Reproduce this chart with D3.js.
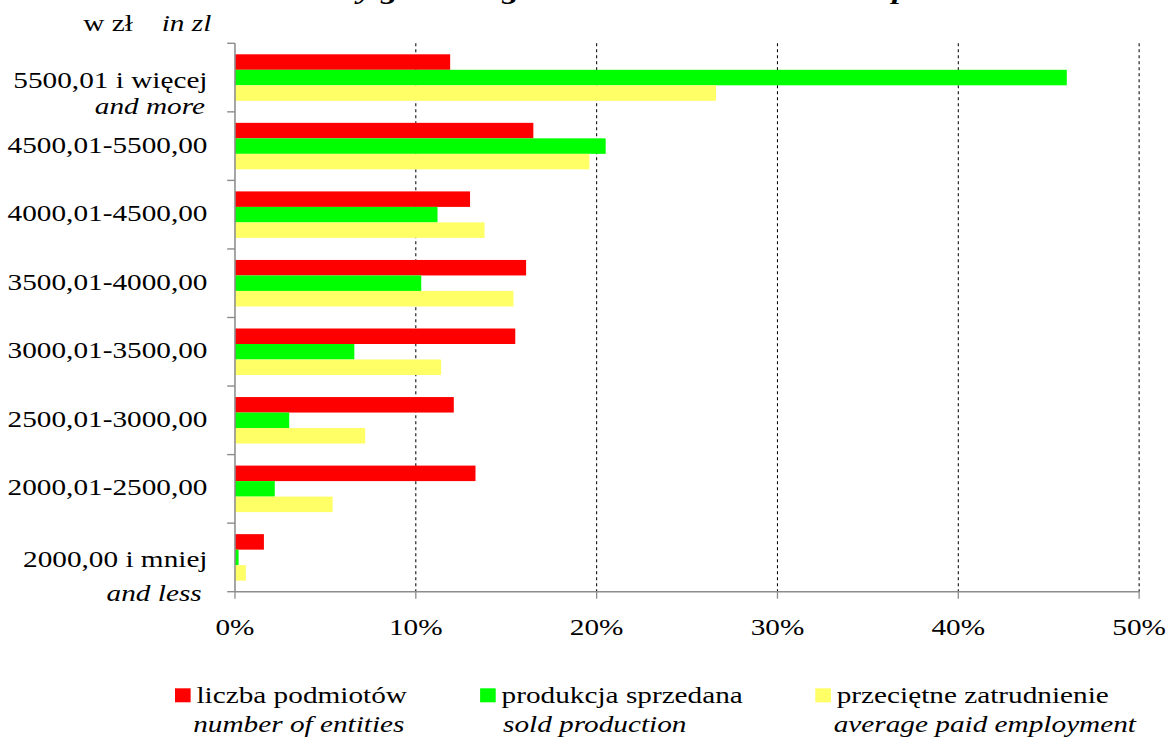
<!DOCTYPE html>
<html>
<head>
<meta charset="utf-8">
<script src="https://cdn.jsdelivr.net/npm/d3@7"></script>
<style>
  html, body { margin: 0; padding: 0; background: #fff; overflow: hidden; }
  svg { display: block; font-family: "Liberation Serif", "Times New Roman", serif; }
</style>
</head>
<body>
<div id="chart"></div>
<script>
// wage brackets (top to bottom) with english second line
const categories = ["5500,01 i więcej", "4500,01-5500,00", "4000,01-4500,00", "3500,01-4000,00",
                    "3000,01-3500,00", "2500,01-3000,00", "2000,01-2500,00", "2000,00 i mniej"];
const categoriesEn = ["and more", "", "", "", "", "", "", "and less"];

// shares in %
const entities   = [11.9, 16.5, 13.0, 16.1, 15.5, 12.1, 13.3, 1.6];
const production = [46.0, 20.5, 11.2, 10.3, 6.6, 3.0, 2.2, 0.2];
const employment = [26.6, 19.6, 13.8, 15.4, 11.4, 7.2, 5.4, 0.6];

const xTicks = [0, 10, 20, 30, 40, 50];

const seriesKeys = ["entities", "production", "employment"];
const seriesPl = ["liczba podmiotów", "produkcja sprzedana", "przeciętne zatrudnienie"];
const seriesEn = ["number of entities", "sold production", "average paid employment"];
const colors = ["#ff0000", "#00ff00", "#ffff66"];

const rows = categories.map((c, i) => ({
  cat: c, en: categoriesEn[i],
  entities: entities[i], production: production[i], employment: employment[i]
}));

// chart drawn in a 900-wide space, stretched to the window width
const W = 900, H = 744;
const svg = d3.select("#chart").append("svg")
  .attr("width", 1171)
  .attr("height", 744)
  .attr("viewBox", `0 0 ${W} ${H}`)
  .attr("preserveAspectRatio", "none");

const plot = { left: 180.6, right: 875.5, top: 43.3, bottom: 591.7 };
const fs = 22.5;

const x = d3.scaleLinear().domain([0, 50]).range([plot.left, plot.right]);
const y = d3.scaleBand().domain(categories).range([plot.top, plot.bottom]);
const ySub = d3.scaleBand().domain(seriesKeys).range([11, 57.5]);

// title, cut off by the top edge (only descenders show)
const title = svg.append("text")
  .attr("y", -1)
  .style("font-size", "26px")
  .style("font-weight", "bold")
  .style("font-style", "italic")
  .text("Entities by gross wages and salaries in the enterprises");
const pre = svg.append("text")
  .style("font-size", "26px").style("font-weight", "bold").style("font-style", "italic")
  .text("Entities b");
const preW = pre.node().getComputedTextLength();
pre.remove();
title.attr("x", 275 - preW);

// unit label
svg.append("text").attr("x", 64).attr("y", 30.7)
  .style("font-size", fs + "px").text("w zł");
svg.append("text").attr("x", 124.3).attr("y", 30.7)
  .style("font-size", fs + "px").style("font-style", "italic").text("in zl");

// vertical dashed gridlines
svg.append("g").selectAll("line")
  .data(xTicks.filter(d => d > 0))
  .enter().append("line")
  .attr("x1", d => x(d)).attr("x2", d => x(d))
  .attr("y1", plot.top).attr("y2", plot.bottom)
  .attr("stroke", "#000")
  .attr("stroke-width", 0.8)
  .attr("stroke-dasharray", "3,3");

// bars
const groups = svg.append("g").selectAll("g")
  .data(rows).enter().append("g")
  .attr("transform", d => `translate(0,${y(d.cat)})`);

groups.selectAll("rect")
  .data(d => seriesKeys.map((k, i) => ({ key: k, value: d[k], color: colors[i] })))
  .enter().append("rect")
  .attr("x", x(0))
  .attr("y", d => ySub(d.key))
  .attr("width", d => x(d.value) - x(0))
  .attr("height", ySub.bandwidth())
  .attr("fill", d => d.color);

// axes
const axisColor = "#8c8c8c";
svg.append("line")
  .attr("x1", plot.left).attr("x2", plot.left)
  .attr("y1", plot.top).attr("y2", plot.bottom)
  .attr("stroke", axisColor).attr("stroke-width", 1.2);
svg.append("line")
  .attr("x1", plot.left).attr("x2", plot.right)
  .attr("y1", plot.bottom).attr("y2", plot.bottom)
  .attr("stroke", axisColor).attr("stroke-width", 1.4);

// category boundary ticks
const bounds = categories.map(c => y(c)).concat([plot.bottom]);
svg.append("g").selectAll("line")
  .data(bounds).enter().append("line")
  .attr("x1", plot.left - 6).attr("x2", plot.left)
  .attr("y1", d => d).attr("y2", d => d)
  .attr("stroke", axisColor).attr("stroke-width", 1.4);

// x ticks + labels
svg.append("g").selectAll("line")
  .data(xTicks).enter().append("line")
  .attr("x1", d => x(d)).attr("x2", d => x(d))
  .attr("y1", plot.bottom).attr("y2", plot.bottom + 7)
  .attr("stroke", axisColor).attr("stroke-width", 1);
svg.append("g").selectAll("text")
  .data(xTicks).enter().append("text")
  .attr("x", d => x(d))
  .attr("y", 635)
  .attr("text-anchor", "middle")
  .style("font-size", fs + "px")
  .text(d => d + "%");

// category labels
const labels = svg.append("g").selectAll("g")
  .data(rows).enter().append("g");
labels.append("text")
  .attr("x", 159.5)
  .attr("y", d => y(d.cat) + y.bandwidth() / 2 + (d.en ? 10 : 6.5))
  .attr("text-anchor", "end")
  .style("font-size", fs + "px")
  .text(d => d.cat);
labels.filter(d => d.en).append("text")
  .attr("x", d => d.en === "and more" ? 157.6 : 155)
  .attr("y", d => y(d.cat) + y.bandwidth() / 2 + (d.en === "and more" ? 36.5 : 44))
  .attr("text-anchor", "end")
  .style("font-size", fs + "px")
  .style("font-style", "italic")
  .text(d => d.en);

// legend
const legendX = [134.5, 369, 626.6];
const legend = svg.append("g").selectAll("g")
  .data(seriesKeys).enter().append("g")
  .attr("transform", (d, i) => `translate(${legendX[i]},0)`);
legend.append("rect")
  .attr("x", 0).attr("y", 688.3)
  .attr("width", 12).attr("height", 14)
  .attr("fill", (d, i) => colors[i]);
legend.append("text")
  .attr("x", 16.5).attr("y", 703.3)
  .style("font-size", fs + "px")
  .text((d, i) => seriesPl[i]);
legend.append("text")
  .attr("x", (d, i) => [14, 17.6, 14.2][i]).attr("y", 731.7)
  .style("font-size", fs + "px")
  .style("font-style", "italic")
  .text((d, i) => seriesEn[i]);
</script>
</body>
</html>
